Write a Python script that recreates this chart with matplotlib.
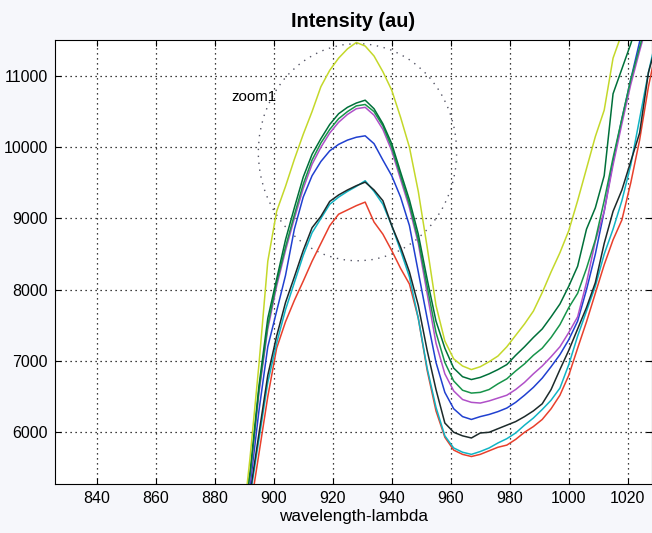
import matplotlib
matplotlib.use("Agg")
import matplotlib.pyplot as plt
from matplotlib.patches import Ellipse

plt.rcParams["font.family"] = ["Liberation Sans", "DejaVu Sans"]

# wavelength grid (nm)
wavelength = [889, 892, 895, 898, 901, 904, 907, 910, 913, 916, 919, 922, 925, 928,
              931, 934, 937, 940, 943, 946, 949, 952, 955, 958, 961, 964, 967, 970,
              973, 976, 979, 982, 985, 988, 991, 994, 997, 1000, 1003, 1006, 1009,
              1012, 1015, 1018, 1021, 1024, 1027, 1030]

# intensity curves
yellow = [4500, 5650, 6950, 8400, 9100, 9450, 9830, 10180, 10500, 10850, 11080, 11250,
          11380, 11470, 11420, 11280, 11060, 10800, 10420, 10000, 9380, 8600, 7780, 7280,
          7030, 6930, 6880, 6920, 6990, 7070, 7200, 7360, 7520, 7700, 7960, 8250, 8520,
          8830, 9250, 9700, 10150, 10520, 11250, 11600, 12000, 12400, 12800, 13200]
dark_green = [4700, 5450, 6650, 7600, 8150, 8700, 9150, 9580, 9900, 10120, 10320, 10470,
              10560, 10620, 10660, 10540, 10330, 10050, 9650, 9260, 8780, 8150, 7560, 7180,
              6900, 6780, 6740, 6770, 6820, 6880, 6950, 7080, 7200, 7330, 7450, 7620, 7800,
              8050, 8330, 8850, 9150, 9600, 10750, 11100, 11450, 11850, 12250, 12650]
green = [4650, 5400, 6600, 7500, 8100, 8600, 9050, 9480, 9820, 10060, 10250, 10400,
         10500, 10580, 10600, 10500, 10300, 10000, 9600, 9200, 8700, 8050, 7400, 6980,
         6720, 6590, 6550, 6560, 6600, 6680, 6750, 6860, 6960, 7080, 7180, 7330, 7510,
         7750, 7950, 8300, 8700, 9250, 9850, 10400, 10950, 11400, 11850, 12300]
purple = [4600, 5350, 6550, 7450, 8050, 8550, 9000, 9420, 9760, 10000, 10200, 10350,
          10460, 10540, 10560, 10450, 10250, 9950, 9550, 9150, 8650, 7950, 7250, 6820,
          6580, 6460, 6420, 6410, 6440, 6480, 6520, 6600, 6700, 6820, 6930, 7060, 7200,
          7400, 7620, 8100, 8680, 9100, 9750, 10330, 10880, 11350, 11800, 12250]
blue = [4550, 5250, 6300, 7200, 7700, 8200, 8850, 9300, 9600, 9800, 9950, 10040,
        10100, 10140, 10160, 10050, 9820, 9600, 9300, 8900, 8250, 7600, 6980, 6560,
        6330, 6220, 6180, 6220, 6250, 6290, 6340, 6420, 6520, 6630, 6760, 6920, 7090,
        7300, 7560, 8000, 8500, 9100, 9800, 10400, 10950, 11480, 11950, 12400]
black = [4400, 5150, 5980, 6800, 7350, 7820, 8180, 8550, 8870, 9030, 9240, 9330,
         9400, 9460, 9510, 9400, 9250, 8900, 8600, 8250, 7780, 7150, 6600, 6130,
         6000, 5950, 5920, 5990, 6000, 6050, 6100, 6150, 6220, 6300, 6400, 6600, 6880,
         7150, 7450, 7750, 8100, 8650, 9100, 9400, 9800, 10200, 11050, 11500]
cyan = [4350, 5100, 5900, 6700, 7250, 7720, 8100, 8480, 8800, 9000, 9200, 9300,
        9380, 9450, 9530, 9380, 9200, 8900, 8550, 8180, 7600, 6900, 6350, 5950,
        5780, 5720, 5690, 5730, 5780, 5850, 5910, 5990, 6100, 6200, 6320, 6450, 6620,
        6950, 7350, 7700, 8050, 8500, 8850, 9250, 9750, 10400, 11050, 11600]
red = [4200, 4900, 5700, 6500, 7180, 7550, 7850, 8120, 8400, 8650, 8900, 9060,
       9120, 9180, 9230, 8950, 8780, 8550, 8300, 8080, 7600, 6870, 6300, 5930,
       5750, 5690, 5660, 5690, 5740, 5790, 5820, 5900, 6000, 6080, 6180, 6330, 6520,
       6800, 7180, 7550, 7950, 8350, 8700, 8980, 9500, 10100, 10850, 11450]

series = [
    (red, "#e8402c"),
    (cyan, "#10b4c4"),
    (black, "#1c2a2a"),
    (blue, "#2040d0"),
    (purple, "#b050c8"),
    (green, "#17944a"),
    (dark_green, "#00703a"),
    (yellow, "#c4d82a"),
]

x_ticks = [840, 860, 880, 900, 920, 940, 960, 980, 1000, 1020]
y_ticks = [6000, 7000, 8000, 9000, 10000, 11000]

fig = plt.figure(figsize=(6.52, 5.33), dpi=100, facecolor="#f6f7fb")
ax = fig.add_axes([0.0844, 0.0919, 0.9156, 0.8331])

for vals, col in series:
    ax.plot(wavelength, vals, color=col, linewidth=1.1)

# zoom circle
circ = Ellipse((928.4, 9930), width=67.2, height=3046, fill=False,
               edgecolor="#555566", linewidth=1.0, linestyle=(0, (1, 4)))
ax.add_patch(circ)
ax.text(885.8, 10700, "zoom1", fontsize=10.8, ha="left", va="center")

ax.set_xlim(825.9, 1028.2)
ax.set_ylim(5274, 11505)
ax.set_xticks(x_ticks)
ax.set_yticks(y_ticks)
ax.tick_params(direction="in", top=True, right=True, labelsize=11.5, length=4, pad=5)
ax.grid(True, color="black", linestyle=(0, (1, 3)), linewidth=0.9)

ax.set_title("Intensity (au)", fontsize=14.3, fontweight="bold", pad=9)
ax.set_xlabel("wavelength-lambda", fontsize=12.3, labelpad=2)

fig.savefig("out.png", dpi=100, facecolor=fig.get_facecolor())
